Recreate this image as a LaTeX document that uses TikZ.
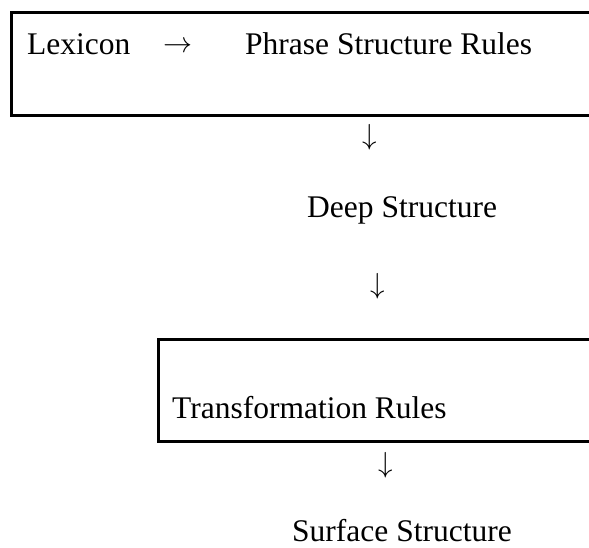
\documentclass[tikz,border=0pt]{standalone}
\usepackage{fontspec}
\setmainfont{Liberation Serif}
\usepackage{graphicx}
\usepackage{tikz}

\begin{document}
\begin{tikzpicture}
[x=1pt,y=-1pt,boxline/.style={black,line width=3pt},label/.style={black,inner sep=0pt,anchor=base west,text depth=0pt,font=\fontsize{31.5}{37}\selectfont},sign/.style={black,inner sep=0pt}]
\useasboundingbox (0,0) rectangle (589,548);
\clip (0,0) rectangle (589,548);

% lexicon box
\draw[boxline] (600,12.5) -- (11.5,12.5) -- (11.5,115.5) -- (600,115.5);
\node[label](lexicon) at (27,55){Lexicon};
\node[sign](toright) at (177.5,47){\scalebox{2.9}{$\rightarrow$}};
\node[label](psr) at (245,55){Phrase Structure Rules};

% deep structure
\node[sign](down1) at (370,137.5){\scalebox{2.9}{$\downarrow$}};
\node[label](deep) at (307,218){Deep Structure};
\node[sign](down2) at (378,286){\scalebox{2.9}{$\downarrow$}};

% transformation box
\draw[boxline] (600,339.5) -- (158.5,339.5) -- (158.5,441.5) -- (600,441.5);
\node[label](trans) at (172,418){Transformation Rules};

% surface structure
\node[sign](down3) at (386,465){\scalebox{2.9}{$\downarrow$}};
\node[label](surface) at (292,541.5){Surface Structure};

\end{tikzpicture}
\end{document}
